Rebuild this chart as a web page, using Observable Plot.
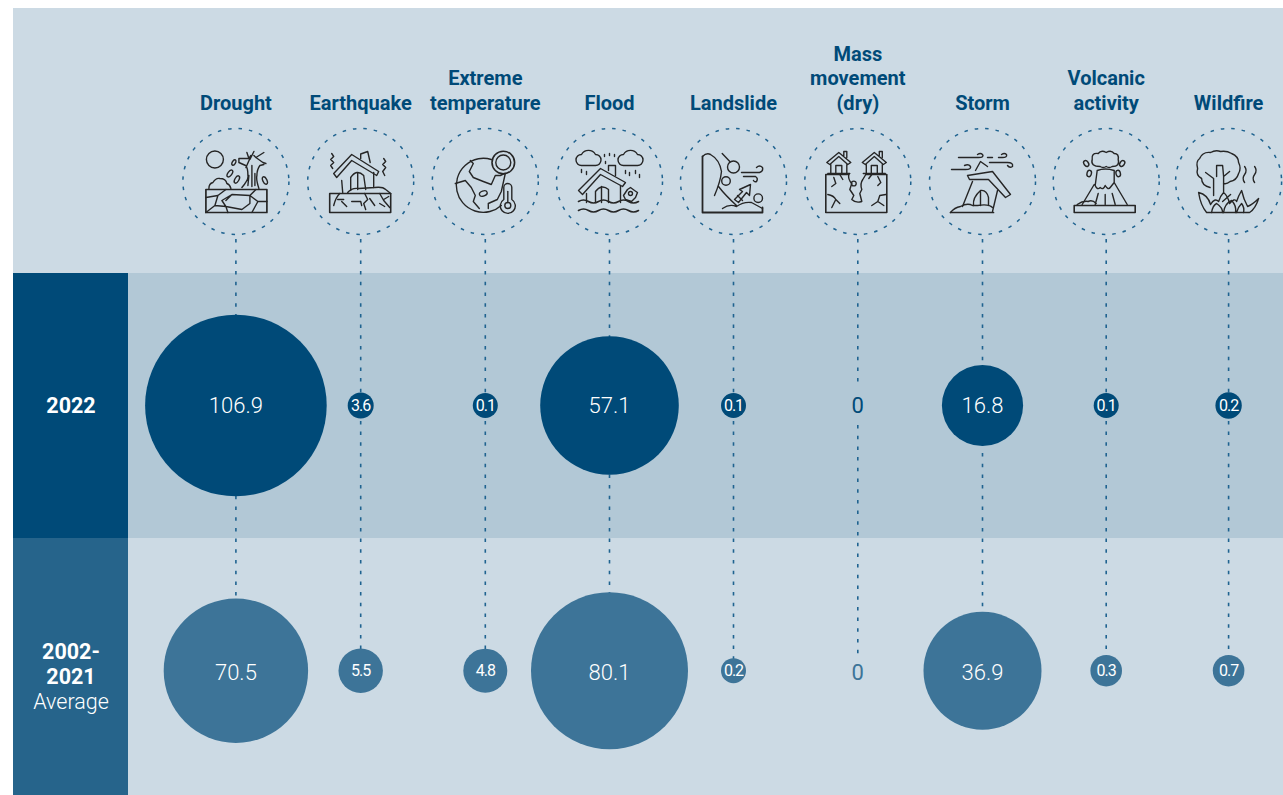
<!DOCTYPE html>
<html>
<head>
<meta charset="utf-8">
<script src="https://cdn.jsdelivr.net/npm/d3@7"></script>
<script src="https://cdn.jsdelivr.net/npm/@observablehq/plot@0.6"></script>
<style>
html,body{margin:0;padding:0;background:#fff}
svg{display:block}
.tight text{letter-spacing:-1px}
</style>
</head>
<body>
<div id="chart"></div>
<script>
// ---------- data ----------
const categories = ["Drought","Earthquake","Extreme\ntemperature","Flood","Landslide","Mass\nmovement\n(dry)","Storm","Volcanic\nactivity","Wildfire"];
const values2022 = [106.9,3.6,0.1,57.1,0.1,0,16.8,0.1,0.2];
const valuesAverage = [70.5,5.5,4.8,80.1,0.2,0,36.9,0.3,0.7];
const rowLabel2022 = "2022";
const rowLabelAverageYears = "2002-\n2021";
const rowLabelAverageWord = "Average";

// ---------- line icons, drawn in a 100x100 box centred on the ring ----------
const iconMarkup = [
// Drought
`<circle cx="-21" cy="-22" r="8.5"/><rect x="-30" y="8" width="61" height="23" stroke-width="1.7"/>
<path d="M-30 16L-18 14L-10 8M-18 14L-21 24L-30 31M-21 24L-10 25L-8 31M-10 25L-14 19L-4 13L14 14L20 8M-4 13L-10 19M14 14L22 20L16 31M22 20L31 20M-10 25L6 28L14 22L14 14"/>
<path d="M-27 7Q-27 2 -23 1Q-20 -4 -16 -3Q-10 -3 -9 2Q-6 3 -5 7"/>
<path d="M6 6Q13 -2 12 -6Q12 -14 9.7 -16L3 -19L3 -23L13 -23L11 -29M13 -23L15 -26M14 -22L18 -30M18 -26L20 -24L28 -29M20 -24L27 -19L30 -18M23 7Q20 -2 21 -6Q21 -12 24 -16L28 -17M10 -14L14 -23M16 -16L16 5M12 4L13 -6M19 -8L19 4"/>
<ellipse cx="-6" cy="-8" rx="2" ry="4" transform="rotate(35 -6 -8)"/><ellipse cx="1" cy="-2" rx="2" ry="4" transform="rotate(30 1 -2)"/><ellipse cx="-2" cy="-19" rx="1.6" ry="3" transform="rotate(30 -2 -19)"/><ellipse cx="29" cy="-1" rx="2" ry="4" transform="rotate(-25 29 -1)"/>`,
// Earthquake
`<rect x="-31" y="12" width="61" height="19" stroke-width="1.6"/>
<path d="M-27 -8L-9 -27L18 -10L16 -6L-9 -21L-24 -4Z"/><path d="M0 -23L0 -27.5L7 -30L9.5 -19"/>
<path d="M-19 -1L-18 11M13 -9L13 6M-10 9L-10 -4Q-4 -13 3 -6L5 8M-3 -8L-3 8"/>
<path d="M-13 11Q-9 6 -2 7L14 6Q22 5 25 8L30 12"/>
<path d="M-21 12Q-25 16 -27 24M-23 18L-17 18M-19 20L-14 25M-9 20L0 20L1 24M4 12L7 18L3 22L5 28M9 17L14 24M19 12L23 19L29 26M23 18L28 15M19 22L24 25"/>
<path d="M-29 -28L-27 -25L-30 -22L-27 -19L-30 -16L-28 -13M23 -23L25 -20L22 -17L25 -14L22 -10L24 -6"/>`,
// Extreme temperature
`<path d="M6 -22A27 27 0 1 0 16 24"/>
<path d="M-15 -21L-12 -18L-16 -10L-12 -4L-2 0L6 3L10 -6L15 -6L19 -8M-30 2L-20 -1L-14 6L-10 14L-12 20L-6 27M3 27L3 22L12 18L16 10L20 -8"/>
<ellipse cx="-2" cy="12" rx="4" ry="2.5" transform="rotate(-20 -2 12)"/>
<circle cx="18" cy="-19" r="11.3" stroke-width="1.6"/><circle cx="18" cy="-19" r="7.5"/>
<path d="M18.5 6L18.5 18A7.5 7.5 0 1 0 26.5 18L26.5 6A4 4 0 0 0 18.5 6Z"/><circle cx="22.5" cy="24" r="3"/><path d="M22.5 10L22.5 21"/>`,
// Flood
`<path d="M-28 -16A5.5 5.5 0 0 1 -28 -27A8 8 0 0 1 -14 -27A5.5 5.5 0 0 1 -14 -16Z"/><path d="M14 -16A5.5 5.5 0 0 1 14 -27A8 8 0 0 1 28 -27A5.5 5.5 0 0 1 28 -16Z"/>
<path d="M-5 -27L-5 -25M0 -28L0 -26M5 -27L5 -25M-4 -20L-4 -18M-28 -12L-28 -9M-23 -10L-23 -7M16 -11L16 -8M20 -9L20 -6M26 -11L26 -8M30 -7L30 -4"/>
<path d="M-31 9L-9 -13L16 1L13 5L-9 -7L-27 13Z"/><path d="M-1 -11L-1 -16L6 -16L6 -6"/>
<path d="M-23 12L-23 21M11 4L11 21M-14 21L-14 10Q-8 2 -1 8L-1 21M-8 5L-8 21"/>
<path d="M14 14L18 8L21 6L25 9L28 11L26 16L22 20L16 18Z"/><circle cx="21" cy="12" r="2"/>
<path d="M-31 20Q-26 17 -21 20T-11 20T-1 20T9 20T19 20T29 20M-31 29Q-26 26 -21 29T-11 29T-1 29T9 29T19 29T29 29" stroke-width="1.6"/>`,
// Landslide
`<path d="M-31 -25L-31 31L29 31L29 26" stroke-width="1.8"/><path d="M-31 -25Q-27 -29 -23 -27Q-14 -22 -12 -10Q-13 0 -19 14"/>
<path d="M-15 5Q-8 14 3 24M-11 27Q-4 22 3 25Q10 20 18 21L29 27"/>
<circle cx="0" cy="-14.5" r="6"/><circle cx="-7.5" cy="-0.5" r="4.3"/><circle cx="24.7" cy="16.7" r="4.3"/><path d="M-11.3 -28L-3.7 -20"/>
<path d="M8 -9L26 -9Q30 -10 29 -14Q26 -17 23 -14M10 -5L22 -5Q25 -3 23 0Q21 1 20 -1"/>
<path d="M1 18L9 10L6 8L17 3L16 14L13 11L5 21ZM4 14L9 19"/>`,
// Mass movement (dry)
`<path d="M-9 -7L-32 -7L-32 31L29 31L29 -7L8 -7" stroke-width="1.6"/>
<path d="M-9 -7Q-10 -2 -6 2L-8 8L-4 14L-6 18Q-2 22 4 20L2 12L4 8Q2 2 5 -2L8 -7"/><circle cx="-4" cy="2" r="2.4"/>
<path d="M-24 -4L-22 2L-26 5M-18 -7L-15 -2M-30 13Q-24 14 -22 18L-26 26M-22 18L-18 22M20 -5L23 1L20 4M14 -7L11 -3M28 13L22 14L20 20L14 24M20 20L26 24"/>
<path d="M-31 -19L-19 -29L-7 -19L-10 -17L-19 -25L-28 -17ZM-27 -17L-27 -8M-11 -17L-11 -8M-22 -8L-22 -16L-16 -16L-16 -8M-14 -26L-14 -30L-11 -30L-11 -24M-30 -8L-8 -8"/>
<g transform="translate(35.5 0)"><path d="M-31 -19L-19 -29L-7 -19L-10 -17L-19 -25L-28 -17ZM-27 -17L-27 -8M-11 -17L-11 -8M-22 -8L-22 -16L-16 -16L-16 -8M-14 -26L-14 -30L-11 -30L-11 -24M-30 -8L-8 -8"/></g>`,
// Storm
`<path d="M-24 -24L-4 -24Q2 -24 0 -27Q-2 -29 -5 -27M5 -24L10 -24M16 -24L20 -24Q25 -24 24 -27Q22 -29 19 -27M7 -19L25 -19Q31 -19 30 -15Q27 -13 25 -16M-31 -12L-17 -12Q-11 -12 -12 -15Q-14 -18 -18 -16"/>
<path d="M-15 -6L10 -10L28 13L23 16L6 -2L-13 -2Z"/><path d="M-7 -11L-2 -20L5 -15"/>
<path d="M-10 0L-20 25M15 9L10 30M-9 24Q-10 16 -2 9Q4 8 6 16L6 24M-2 10L-2 24"/>
<path d="M-32 31L11 31" stroke-width="1.7"/><path d="M-32 31Q-28 26 -22 25Q-15 21 -10 24L-5 24Q6 22 10 26"/>`,
// Volcanic activity
`<rect x="-32" y="24" width="61" height="7" stroke-width="1.6"/>
<path d="M-24 23L-12 3M21 23L8 1M-9 -11L-11 4Q-9 9 -6 6Q-3 9 -1 4Q2 9 4 6L8 1L8 -11M-9 -11Q-1 -14 8 -11"/>
<path d="M-1 13L-1 23M-8 12L-11 23M6 12L9 23M-29 23Q-23 19 -18 20Q-14 18 -10 22"/>
<path d="M-6 -15Q-16 -15 -14 -22Q-15 -29 -8 -28Q-5 -32 0 -29Q5 -32 8 -28Q13 -28 12 -22Q14 -15 6 -15Q3 -13 0 -15Q-3 -13 -6 -15Z"/>
<ellipse cx="-20" cy="-18" rx="2.2" ry="3.2" transform="rotate(-35 -20 -18)"/><ellipse cx="-17" cy="-8" rx="2.2" ry="3.2" transform="rotate(15 -17 -8)"/><ellipse cx="16" cy="-18" rx="2.2" ry="3.2" transform="rotate(35 16 -18)"/><ellipse cx="12" cy="-8" rx="2.2" ry="3.2" transform="rotate(-15 12 -8)"/>`,
// Wildfire
`<path d="M-18.5 6Q-27 4 -27 -3Q-33 -6 -31 -13Q-33 -20 -29 -23Q-26 -30 -18 -29Q-13 -32 -8 -30Q-2 -31 3 -28Q10 -25 10 -19Q13 -13 10 -8Q8 -1 1.5 0Q-2 3 -5 2"/>
<path d="M-15 14L-15 -3L-23 -9M-12 -5L-12 -16L-6 -16L-5 -5L1 -10M-5 -5L-5 10"/>
<path d="M16 -15q3 4 0 8q-3 4 0 8M26 -15q3 4 0 8q-3 4 0 8"/>
<path d="M-30 11Q-21 13 -18 23Q-14 16 -10 20Q-8 14 -5 11Q-1 14 1 22Q6 16 8 20Q10 14 13 9Q15 18 19 25Q24 23 30 17Q27 27 21 31L-22 31Q-28 24 -30 11Z"/>
<path d="M-17 31Q-16 24 -12 22Q-6 26 -6 31M-5 31Q-4 22 3 19Q8 24 7 31M8 31Q9 26 13 22Q16 26 15 31M-6 20L2 13"/>`
];
const iconSrc = (markup) => "data:image/svg+xml," + encodeURIComponent(
  `<svg xmlns="http://www.w3.org/2000/svg" width="100" height="100" viewBox="-50 -50 100 100"><g fill="none" stroke="#262626" stroke-width="1.4" stroke-linejoin="round" stroke-linecap="round">${markup}</g></svg>`);

// ---------- layout: named stops of the position scales ----------
const xStopNames = ["panelLeft","labelCentre","bandRight",...categories,"panelRight"];
const xStopPixels = [13,70.5,128,235.4,360.2,484.8,609,733,857.3,982,1105.7,1228.1,1283];
const yStopNames = ["top","headerBase","iconRing","lineStart","band1","gap1","row2022","gap2","band2","gap3","rowAverage","bottom"];
const yStopPixels = [8,110,181,239,273,384,405,425,538,657,670.2,795];
const X = (name) => xStopNames.indexOf(name);
const Y = (name) => yStopNames.indexOf(name);

// radii per row; row 2022 sits on the negative side of the r scale's domain
const rDomain = [-106.9,-57.1,-16.8,-3.6,-0.2,-0.1,0,0.2,0.3,0.7,4.8,5.5,36.9,70.5,80.1];
const rRange  = [90.8,69.3,40.6,13,13.2,12.5,0,12.5,15.8,15.8,22,22.2,59,72.2,78.5];

const colors = {panel:"#ccdae4", band:"#b2c8d6", dark:"#004a78", mid:"#26648b", avg:"#3d7498", line:"#1f6390", head:"#004a78"};
const font = "Roboto";

const rows = [
  {row:"row2022", sign:-1, fill:colors.dark, values:values2022},
  {row:"rowAverage", sign:1, fill:colors.avg, values:valuesAverage}
];
const cells = rows.flatMap(r => r.values.map((v,i) => ({cat:categories[i], value:v, row:r.row, sign:r.sign, fill:r.fill})));

// connector lines: behind the bubbles, broken around a bare zero
const connectors = categories.flatMap((c,i) => (values2022[i] === 0 && valuesAverage[i] === 0)
  ? [{cat:c, from:"lineStart", to:"gap1"}, {cat:c, from:"gap2", to:"gap3"}]
  : [{cat:c, from:"lineStart", to:"rowAverage"}]);

const rectOf = (x1,x2,y1,y2,fill) => Plot.rectY([0],{x1:()=>X(x1),x2:()=>X(x2),y1:()=>Y(y1),y2:()=>Y(y2),fill,inset:0});
const fmt = (v) => String(v);

const plot = Plot.plot({
  width:1283, height:795, margin:0,
  style:{background:"#fff", fontFamily:font},
  x:{type:"linear", domain:xStopNames.map((_,i)=>i), range:xStopPixels, axis:null},
  y:{type:"linear", domain:yStopNames.map((_,i)=>i), range:yStopPixels, axis:null},
  r:{type:"linear", domain:rDomain, range:rRange},
  marks:[
    // panels
    rectOf("panelLeft","panelRight","top","band1",colors.panel),
    rectOf("bandRight","panelRight","band1","band2",colors.band),
    rectOf("bandRight","panelRight","band2","bottom",colors.panel),
    rectOf("panelLeft","bandRight","band1","band2",colors.dark),
    rectOf("panelLeft","bandRight","band2","bottom",colors.mid),
    // connectors
    Plot.ruleX(connectors,{x:d=>X(d.cat), y1:d=>Y(d.from), y2:d=>Y(d.to), stroke:colors.line, strokeWidth:1.6, strokeDasharray:"3.5,7.2"}),
    // icon rings and icons
    Plot.dot(categories,{x:d=>X(d), y:()=>Y("iconRing"), r:53, fill:"none", stroke:colors.line, strokeWidth:1.5, strokeDasharray:"3.5,7"}),
    Plot.image(categories,{x:d=>X(d), y:()=>Y("iconRing"), width:100, height:100, src:(d,i)=>iconSrc(iconMarkup[i])}),
    // header labels
    Plot.text(categories,{x:d=>X(d), y:()=>Y("headerBase"), dy:-1, text:d=>d, lineAnchor:"bottom", lineHeight:1.21, fill:colors.head, fontSize:20, fontWeight:700, fontFamily:font}),
    // bubbles
    Plot.dot(cells.filter(d=>d.value>0),{x:d=>X(d.cat), y:d=>Y(d.row), r:d=>d.sign*d.value, fill:d=>d.fill}),
    // values
    Plot.text(cells.filter(d=>d.value>=10&&d.row==="row2022"),{x:d=>X(d.cat), y:d=>Y(d.row), text:d=>fmt(d.value), fill:"#fff", fontSize:22, fontWeight:300, fontFamily:font}),
    Plot.text(cells.filter(d=>d.value>=10&&d.row==="rowAverage"),{x:d=>X(d.cat), y:d=>Y(d.row), dy:2, text:d=>fmt(d.value), fill:"#fff", fontSize:22, fontWeight:300, fontFamily:font}),
    Plot.text(cells.filter(d=>d.value>0&&d.value<10),{className:"tight", x:d=>X(d.cat), y:d=>Y(d.row), text:d=>fmt(d.value), fill:"#fff", fontSize:16, fontWeight:400, fontFamily:font}),
    Plot.text(cells.filter(d=>d.value===0&&d.row==="row2022"),{x:d=>X(d.cat), y:d=>Y(d.row), text:d=>fmt(d.value), fill:d=>d.fill, fontSize:22, fontWeight:400, fontFamily:font}),
    Plot.text(cells.filter(d=>d.value===0&&d.row==="rowAverage"),{x:d=>X(d.cat), y:d=>Y(d.row), dy:2.5, text:d=>fmt(d.value), fill:d=>d.fill, fontSize:22, fontWeight:400, fontFamily:font}),
    // row labels
    Plot.text([rowLabel2022],{x:()=>X("labelCentre"), y:()=>Y("row2022"), dy:1, text:d=>d, fill:"#fff", fontSize:21.5, fontWeight:700, fontFamily:font}),
    Plot.text([rowLabelAverageYears],{x:()=>X("labelCentre"), y:()=>Y("rowAverage"), dy:-7, text:d=>d, lineHeight:1.16, fill:"#fff", fontSize:21.5, fontWeight:700, fontFamily:font}),
    Plot.text([rowLabelAverageWord],{x:()=>X("labelCentre"), y:()=>Y("rowAverage"), dy:31.5, text:d=>d, fill:"#fff", fontSize:21.5, fontWeight:300, fontFamily:font})
  ]
});
document.getElementById("chart").append(plot);
</script>
</body>
</html>
